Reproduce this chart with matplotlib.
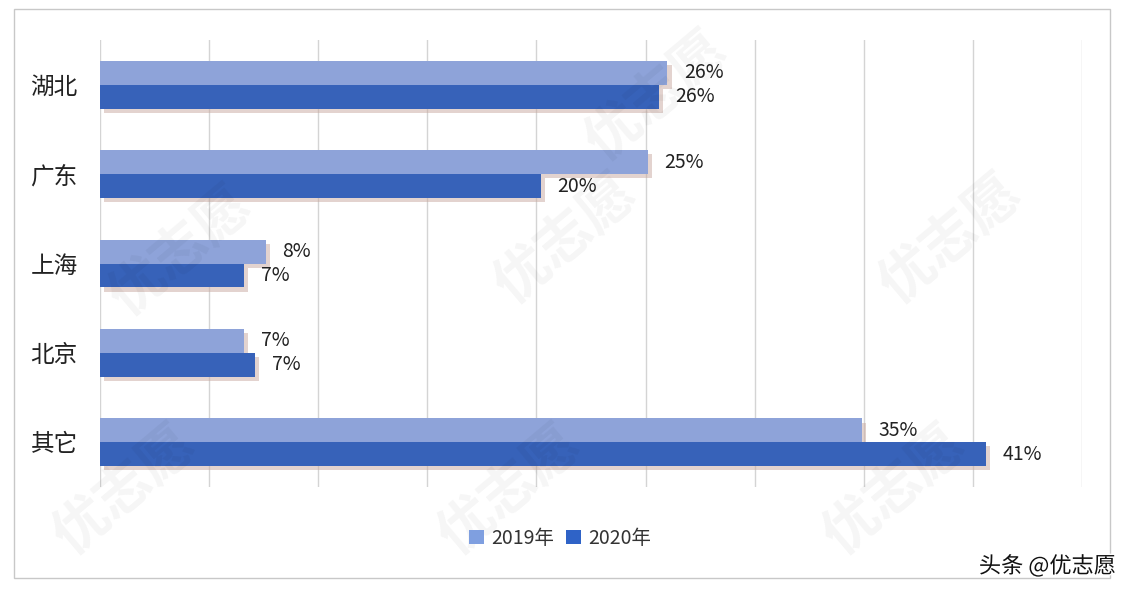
import matplotlib.pyplot as plt
import matplotlib.patheffects as pe
from matplotlib.patches import Rectangle, Patch

plt.rcParams['font.family'] = ['Noto Sans CJK SC', 'DejaVu Sans']

provinces = ['湖北', '广东', '上海', '北京', '其它']
share_2019 = [26.0, 25.1, 7.6, 6.6, 34.9]
share_2020 = [25.6, 20.2, 6.6, 7.1, 40.6]
series_names = ['2019年', '2020年']

c19 = '#8ea3d9'
c20 = '#3762b9'

fig = plt.figure(figsize=(11.32, 5.98), dpi=100)
fig.patch.set_facecolor('white')
fig.patches.append(Rectangle((14 / 1132, 1 - 578 / 598), 1096 / 1132, 569 / 598,
                             transform=fig.transFigure, fill=False,
                             edgecolor='#c8c8c8', linewidth=1))

ax = fig.add_axes([100 / 1132, 1 - 487 / 598, 982 / 1132, 447 / 598])

# faint watermarks
for wx, wy in [(0.11, 0.18), (0.45, 0.18), (0.79, 0.18), (0.16, 0.58), (0.5, 0.6),
               (0.84, 0.6), (0.58, 0.84)]:
    fig.text(wx, wy, '优志愿', fontsize=40, rotation=40, color='#000000', alpha=0.04,
             fontweight='bold', ha='center', va='center', zorder=0)

h = 0.268
y = list(range(len(provinces)))
shadow = [pe.SimplePatchShadow(offset=(3, -3), shadow_rgbFace='#c9a9a0', alpha=0.5), pe.Normal()]
b19 = ax.barh([i - h / 2 for i in y], share_2019, height=h, color=c19, zorder=3)
b20 = ax.barh([i + h / 2 for i in y], share_2020, height=h, color=c20, zorder=3)
for b in list(b19) + list(b20):
    b.set_path_effects(shadow)

for i in y:
    ax.annotate(f'{share_2019[i]:.0f}%', (share_2019[i], i - h / 2), xytext=(12, 0),
                textcoords='offset points', va='center', ha='left', fontsize=14, color='#222222')
    ax.annotate(f'{share_2020[i]:.0f}%', (share_2020[i], i + h / 2), xytext=(12, 0),
                textcoords='offset points', va='center', ha='left', fontsize=14, color='#222222')

ax.set_xlim(0, 45)
ax.set_ylim(4.5, -0.5)
ax.set_xticks(range(0, 46, 5))
ax.set_xticklabels([])
ax.tick_params(axis='x', length=0)
ax.tick_params(axis='y', length=0, pad=16)
ax.set_yticks(y)
ax.set_yticklabels(provinces, fontsize=17, color='#222222')
ax.grid(axis='x', color='#d4d4d4', linewidth=1, zorder=0)
ax.set_axisbelow(True)
for s in ax.spines.values():
    s.set_visible(False)
ax.patch.set_alpha(0)

handles = [Patch(facecolor='#7f9fe0'), Patch(facecolor='#2f63c7')]
fig.legend(handles, series_names, loc='center', bbox_to_anchor=(0.495, 1 - 538 / 598),
           ncol=2, frameon=False, fontsize=14, handlelength=0.75, handleheight=0.75,
           handletextpad=0.4, columnspacing=0.6, labelcolor='#333333')

fig.text(0.986, 1 - 566 / 598, '头条 @优志愿', ha='right', va='center', fontsize=16, color='#111111',
         path_effects=[pe.withStroke(linewidth=2, foreground='white')])

fig.savefig('out.png', dpi=100)
